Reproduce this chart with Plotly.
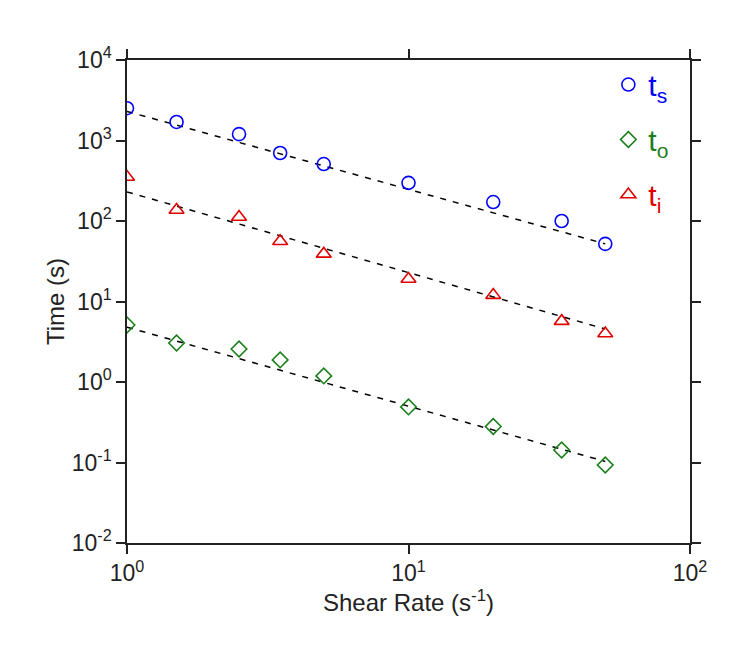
import plotly.graph_objects as go

# Data
shear_rate = [1, 1.5, 2.5, 3.5, 5, 10, 20, 35, 50]
t_s = [2520, 1700, 1200, 700, 510, 298, 172, 100, 52]
t_o = [5.1, 3.05, 2.57, 1.88, 1.19, 0.49, 0.28, 0.143, 0.093]
t_i = [352, 137, 112, 56, 39, 19, 12, 5.7, 4.0]

# Power-law fit lines (end points)
fit_x = [1, 50]
fit_ts = [2300, 52]
fit_to = [4.8, 0.103]
fit_ti = [230, 4.55]

x_tickvals = [1, 10, 100]
x_ticktext = ["10<sup>0</sup>", "10<sup>1</sup>", "10<sup>2</sup>"]
y_tickvals = [0.01, 0.1, 1, 10, 100, 1000, 10000]
y_ticktext = ["10<sup>-2</sup>", "10<sup>-1</sup>", "10<sup>0</sup>", "10<sup>1</sup>",
              "10<sup>2</sup>", "10<sup>3</sup>", "10<sup>4</sup>"]

BLUE = "#0000ff"
GREEN = "#1a7f1a"
RED = "#e00000"
FONT = "Liberation Sans, Arial, sans-serif"

fig = go.Figure()

for fy in (fit_ts, fit_ti, fit_to):
    fig.add_trace(go.Scatter(
        x=fit_x, y=fy, mode="lines",
        line=dict(color="black", width=1.5, dash="6px,7px"),
        showlegend=False, hoverinfo="skip"))

series = [
    ("t<sub>s</sub>", t_s, "circle-open", BLUE, 13),
    ("t<sub>o</sub>", t_o, "diamond-open", GREEN, 12),
    ("t<sub>i</sub>", t_i, "triangle-up-open", RED, 13),
]
for i, (name, ys, sym, col, sz) in enumerate(series):
    fig.add_trace(go.Scatter(
        x=shear_rate, y=ys, mode="markers",
        name=f'<span style="color:{col}">{name}</span>',
        legendgroup=f"g{i}",
        marker=dict(symbol=sym, size=sz, color=col, line=dict(color=col, width=1.6))))

axis_common = dict(
    type="log", showgrid=False, zeroline=False,
    showline=True, linecolor="#222222", linewidth=1.5,
    mirror="allticks", ticks="outside", ticklen=9, tickwidth=1.5, tickcolor="#222222",
    tickfont=dict(family=FONT, size=23, color="#222222"),
)

fig.update_layout(
    width=752, height=651,
    margin=dict(l=119, r=70, t=52, b=116),
    paper_bgcolor="white", plot_bgcolor="white",
    font=dict(family=FONT, color="#222222"),
    xaxis=dict(**axis_common, range=[0, 2], tickvals=x_tickvals, ticktext=x_ticktext,
               title=dict(text="Shear Rate (s<sup>-1</sup>)", font=dict(family=FONT, size=24), standoff=8)),
    yaxis=dict(**axis_common, range=[-2, 4], tickvals=y_tickvals, ticktext=y_ticktext,
               title=dict(text="Time (s)", font=dict(family=FONT, size=24), standoff=0)),
    legend=dict(
        x=0.855, y=1.003, xanchor="left", yanchor="top",
        bgcolor="rgba(0,0,0,0)", borderwidth=0,
        font=dict(family=FONT, size=30),
        tracegroupgap=13, itemwidth=30),
    showlegend=True,
)

fig.write_html("out.html")
